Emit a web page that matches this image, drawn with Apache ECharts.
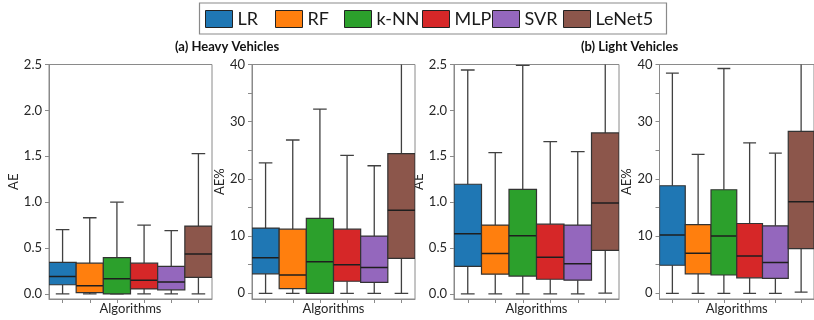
<!DOCTYPE html>
<html>
<head>
<meta charset="utf-8">
<script src="https://cdn.jsdelivr.net/npm/echarts@6/dist/echarts.min.js"></script>
<style>html,body{margin:0;padding:0;background:#fff;}#chart{width:814px;height:320px;}</style>
</head>
<body>
<div id="chart"></div>
<script>
// algorithms and their colours
var algos = ['LR', 'RF', 'k-NN', 'MLP', 'SVR', 'LeNet5'];
var colors = ['#1f77b4', '#ff7f0e', '#2ca02c', '#d62728', '#9467bd', '#8c564b'];

// box stats per algorithm: [low whisker, Q1, median, Q3, high whisker]
var heavyAE = [
  [0, 0.10, 0.19, 0.345, 0.70],
  [0, 0.015, 0.09, 0.335, 0.83],
  [0, 0, 0.165, 0.395, 1.00],
  [0, 0.055, 0.15, 0.335, 0.75],
  [0, 0.045, 0.13, 0.30, 0.69],
  [0, 0.18, 0.435, 0.74, 1.53]
];
var heavyAEpct = [
  [0, 3.4, 6.2, 11.4, 22.8],
  [0, 0.8, 3.2, 11.2, 26.8],
  [0, 0, 5.5, 13.1, 32.2],
  [0, 2.1, 5.0, 11.2, 24.1],
  [0, 1.9, 4.5, 10.0, 22.3],
  [0, 6.1, 14.5, 24.4, 46]
];
var lightAE = [
  [0, 0.30, 0.655, 1.195, 2.44],
  [0, 0.215, 0.44, 0.75, 1.54],
  [0, 0.195, 0.635, 1.14, 2.49],
  [0, 0.16, 0.40, 0.76, 1.66],
  [0, 0.15, 0.33, 0.75, 1.55],
  [0.01, 0.475, 0.99, 1.755, 3.7]
];
var lightAEpct = [
  [0, 4.9, 10.2, 18.8, 38.5],
  [0, 3.4, 7.0, 12.0, 24.3],
  [0, 3.2, 10.0, 18.1, 39.3],
  [0, 2.7, 6.5, 12.2, 26.3],
  [0, 2.6, 5.4, 11.8, 24.5],
  [0.2, 7.8, 16.0, 28.3, 62]
];
var aeTicks = [0, 0.5, 1.0, 1.5, 2.0, 2.5];
var pctLabels = [0, 10, 20, 30, 40];
var pctTicks = [0, 5, 10, 15, 20, 25, 30, 35, 40];
var xTicks = [1, 2, 3, 4, 5, 6];

var panels = [
  {data: heavyAE, name: 'AE', min: -0.055, max: 2.5, labels: aeTicks, ticks: aeTicks, fmt: 1, grid: {left: 49, top: 64.5, width: 163, height: 238}, gap: 27},
  {data: heavyAEpct, name: 'AE%', min: -1, max: 40, labels: pctLabels, ticks: pctTicks, fmt: 0, grid: {left: 252, top: 64.5, width: 163, height: 238}, gap: 22},
  {data: lightAE, name: 'AE', min: -0.055, max: 2.5, labels: aeTicks, ticks: aeTicks, fmt: 1, grid: {left: 454, top: 64.5, width: 165, height: 238}, gap: 22},
  {data: lightAEpct, name: 'AE%', min: -1, max: 40, labels: pctLabels, ticks: pctTicks, fmt: 0, grid: {left: 659.5, top: 64.5, width: 164, height: 238}, gap: 22}
];

var FONT = 'Lato, "Open Sans", sans-serif';
var chart = echarts.init(document.getElementById('chart'));

function renderBox(params, api) {
  var x = api.value(0);
  var lo = api.coord([x, api.value(1)]);
  var q1 = api.coord([x, api.value(2)]);
  var md = api.coord([x, api.value(3)]);
  var q3 = api.coord([x, api.value(4)]);
  var hi = api.coord([x, api.value(5)]);
  var w = api.size([1, 0])[0];
  var cx = lo[0];
  var ln = {stroke: '#404040', lineWidth: 1.3};
  var cs = params.coordSys;
  return {
    type: 'group',
    clipPath: {type: 'rect', shape: {x: cs.x, y: cs.y - 1, width: cs.width, height: cs.height + 2}},
    children: [
      {type: 'line', shape: {x1: cx, y1: lo[1], x2: cx, y2: q1[1]}, style: ln},
      {type: 'line', shape: {x1: cx, y1: q3[1], x2: cx, y2: hi[1]}, style: ln},
      {type: 'line', shape: {x1: cx - w / 4, y1: lo[1], x2: cx + w / 4, y2: lo[1]}, style: ln},
      {type: 'line', shape: {x1: cx - w / 4, y1: hi[1], x2: cx + w / 4, y2: hi[1]}, style: ln},
      {type: 'rect', shape: {x: cx - w / 2, y: q3[1], width: w, height: q1[1] - q3[1]},
        style: {fill: api.visual('color'), stroke: '#333', lineWidth: 1.2}},
      {type: 'line', shape: {x1: cx - w / 2, y1: md[1], x2: cx + w / 2, y2: md[1]}, style: {stroke: '#1e1e1e', lineWidth: 1.5}}
    ]
  };
}

var grids = [], xAxes = [], yAxes = [], series = [];
panels.forEach(function (p, k) {
  grids.push({left: p.grid.left, top: p.grid.top, width: p.grid.width, height: p.grid.height,
    show: true, borderColor: '#8a8a8a', borderWidth: 1, backgroundColor: 'transparent'});
  xAxes.push({
    type: 'value', gridIndex: k, min: 0.5, max: 6.5,
    name: 'Algorithms', nameLocation: 'middle', nameGap: 3,
    nameTextStyle: {fontFamily: FONT, fontSize: 13, color: '#262626'},
    axisLine: {show: true, onZero: false, lineStyle: {color: '#8a8a8a'}},
    axisTick: {show: true, length: 4, customValues: xTicks, lineStyle: {color: '#8a8a8a'}},
    axisLabel: {show: false},
    splitLine: {show: false}
  });
  yAxes.push({
    type: 'value', gridIndex: k, min: p.min, max: p.max,
    name: p.name, nameLocation: 'middle', nameGap: p.gap,
    nameTextStyle: {fontFamily: FONT, fontSize: 13, color: '#262626'},
    axisLine: {show: true, onZero: false, lineStyle: {color: '#8a8a8a'}},
    axisTick: {show: true, length: 4, customValues: p.ticks, lineStyle: {color: '#8a8a8a'}},
    axisLabel: {customValues: p.labels, margin: 7, fontFamily: FONT, fontSize: 13, color: '#262626',
      formatter: (function (f) { return function (v) { return v.toFixed(f); }; })(p.fmt)},
    splitLine: {show: false}
  });
  p.data.forEach(function (s, i) {
    series.push({
      type: 'custom', name: algos[i], xAxisIndex: k, yAxisIndex: k,
      itemStyle: {color: colors[i], borderColor: '#222', borderWidth: 1},
      renderItem: renderBox, clip: true,
      encode: {x: 0, y: [1, 2, 3, 4, 5]},
      data: [[i + 1].concat(s)]
    });
  });
});

var swatchLeft = [205, 275, 344, 422, 492, 563];
var legends = algos.map(function (a, i) {
  return {
    data: [a], left: swatchLeft[i], top: 10, padding: 0,
    itemWidth: 27, itemHeight: 17, icon: 'rect', selectedMode: false,
    itemStyle: {borderColor: '#222', borderWidth: 1},
    textStyle: {fontFamily: FONT, fontSize: 18, color: '#1a1a1a'}
  };
});

chart.setOption({
  animation: false,
  backgroundColor: '#fff',
  title: [
    {text: '(a) Heavy Vehicles', left: 175, top: 40, padding: 0,
      textStyle: {fontFamily: FONT, fontSize: 13, fontWeight: 'bold', color: '#111'}},
    {text: '(b) Light Vehicles', left: 581, top: 40, padding: 0,
      textStyle: {fontFamily: FONT, fontSize: 13, fontWeight: 'bold', color: '#111'}}
  ],
  legend: legends,
  graphic: [{type: 'rect', shape: {x: 199.5, y: 3, width: 467, height: 31}, style: {fill: 'none', stroke: '#8a8a8a', lineWidth: 1.2}, z: 100}],
  grid: grids,
  xAxis: xAxes,
  yAxis: yAxes,
  series: series
});
</script>
</body>
</html>
